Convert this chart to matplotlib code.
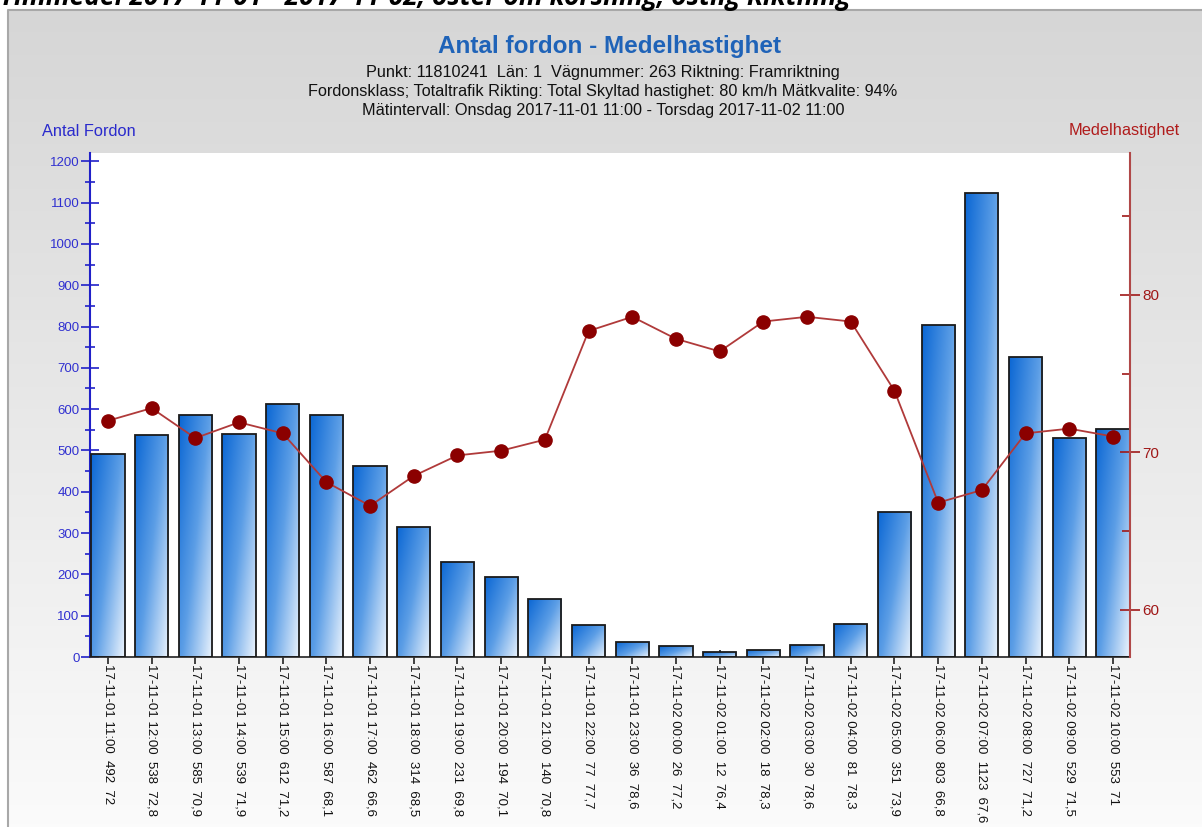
import numpy as np
import matplotlib
matplotlib.use("Agg")
import matplotlib.pyplot as plt
from matplotlib.ticker import MultipleLocator, FixedLocator
from matplotlib.colors import LinearSegmentedColormap

plt.rcParams['font.family'] = ['Liberation Sans', 'DejaVu Sans']

times = ["17-11-01 11:00", "17-11-01 12:00", "17-11-01 13:00", "17-11-01 14:00",
         "17-11-01 15:00", "17-11-01 16:00", "17-11-01 17:00", "17-11-01 18:00",
         "17-11-01 19:00", "17-11-01 20:00", "17-11-01 21:00", "17-11-01 22:00",
         "17-11-01 23:00", "17-11-02 00:00", "17-11-02 01:00", "17-11-02 02:00",
         "17-11-02 03:00", "17-11-02 04:00", "17-11-02 05:00", "17-11-02 06:00",
         "17-11-02 07:00", "17-11-02 08:00", "17-11-02 09:00", "17-11-02 10:00"]
counts = [492, 538, 585, 539, 612, 587, 462, 314, 231, 194, 140, 77,
          36, 26, 12, 18, 30, 81, 351, 803, 1123, 727, 529, 553]
speeds = [72, 72.8, 70.9, 71.9, 71.2, 68.1, 66.6, 68.5, 69.8, 70.1, 70.8, 77.7,
          78.6, 77.2, 76.4, 78.3, 78.6, 78.3, 73.9, 66.8, 67.6, 71.2, 71.5, 71]

W, H = 1202, 827
fig = plt.figure(figsize=(W / 100, H / 100), dpi=100)
fig.patch.set_facecolor('white')

# background panel with vertical gradient
bg = fig.add_axes([0, 0, 1, 1])
bg.set_xlim(0, W)
bg.set_ylim(H, 0)
bg.axis('off')
grad = np.linspace(0, 1, 256).reshape(-1, 1)
bgcmap = LinearSegmentedColormap.from_list('bg', ['#d6d6d6', '#fbfbfb'])
bg.imshow(grad, cmap=bgcmap, extent=[8, W, H, 10], aspect='auto', zorder=0)
bg.plot([8, 8, W], [H, 10, 10], color='#a8a8a8', lw=1.5, zorder=1)

# heading of the page, cut off at the top edge as in the source screenshot
fig.text(0.0, 1 - 5 / H, "Timmedel 2017-11-01 - 2017-11-02, öster om korsning, östlig Riktning",
         fontsize=19, fontweight='bold', fontstyle='italic', va='baseline', ha='left',
         family=['Open Sans', 'DejaVu Sans'])

fig.text(610 / W, 1 - 47 / H, "Antal fordon - Medelhastighet", color='#1f63b8',
         fontsize=17.5, fontweight='bold', ha='center', va='center')
subs = ["Punkt: 11810241  Län: 1  Vägnummer: 263 Riktning: Framriktning",
        "Fordonsklass; Totaltrafik Rikting: Total Skyltad hastighet: 80 km/h Mätkvalite: 94%",
        "Mätintervall: Onsdag 2017-11-01 11:00 - Torsdag 2017-11-02 11:00"]
for i, s in enumerate(subs):
    fig.text(603 / W, 1 - (73 + 18.5 * i) / H, s, fontsize=11.7, ha='center', va='center',
             color='#111111')

fig.text(89 / W, 1 - 131 / H, "Antal Fordon", color='#2a2acc', fontsize=11.8, ha='center', va='center')
fig.text(1124 / W, 1 - 131 / H, "Medelhastighet", color='#b01c1c', fontsize=11.8, ha='center', va='center')

ax = fig.add_axes([90 / W, 1 - 657 / H, (1130 - 90) / W, (657 - 153) / H])
ax.set_facecolor('white')
x = np.arange(len(counts))
bars = ax.bar(x, counts, width=0.76, facecolor='none', edgecolor='#1a1a1a', linewidth=1.3, zorder=3)

barcmap = LinearSegmentedColormap.from_list('bar', ['#0b67d4', '#5c9ee6', '#ecf4fd'])
gx, gy = np.meshgrid(np.linspace(0, 1, 60), np.linspace(0, 1, 200))
gimg = np.clip(0.55 * gx + 0.45 * gy, 0, 1)  # row 0 = top (origin upper)
for b in bars:
    x0, y0 = b.get_x(), b.get_y()
    w, h = b.get_width(), b.get_height()
    im = ax.imshow(gimg, cmap=barcmap, extent=[x0, x0 + w, y0, y0 + h],
                   aspect='auto', zorder=2, origin='upper', interpolation='bilinear')
    im.set_clip_path(b)

ax.set_xlim(-0.41, 23.39)
ax.set_ylim(0, 1220)
ax.yaxis.set_major_locator(MultipleLocator(100))
ax.yaxis.set_minor_locator(MultipleLocator(50))
ax.tick_params(axis='y', which='major', direction='inout', length=13, width=1.2,
               color='#2020c8', labelcolor='#3030d0', labelsize=9.5, pad=1)
ax.tick_params(axis='y', which='minor', direction='inout', length=7, width=1.2, color='#2020c8')
ax.set_xticks(x)


def fmt_speed(v):
    s = f"{v:g}"
    return s.replace('.', ',')


labels = [f"{t}  {c}  {fmt_speed(s)}" for t, c, s in zip(times, counts, speeds)]
ax.set_xticklabels(labels, rotation=270, fontsize=9.5, color='#111111')
ax.tick_params(axis='x', direction='inout', length=10, width=1.2, color='#222222', pad=0)
for lab in ax.get_xticklabels():
    lab.set_va('top')
    lab.set_ha('center')
for s in ['top', 'right']:
    ax.spines[s].set_visible(False)
ax.spines['left'].set_color('#2020c8')
ax.spines['left'].set_linewidth(1.5)
ax.spines['bottom'].set_color('#333333')
ax.spines['bottom'].set_linewidth(1.3)

ax2 = ax.twinx()
ax2.plot(x, speeds, color='#b03a3a', lw=1.3, marker='o', markersize=9.5,
         markerfacecolor='#8b0000', markeredgecolor='#8b0000', zorder=5)
ax2.set_ylim(57.0, 89.0)
ax2.yaxis.set_major_locator(FixedLocator([60, 70, 80]))
ax2.yaxis.set_minor_locator(FixedLocator([65, 75, 85]))
ax2.tick_params(axis='y', which='major', direction='inout', length=14, width=1.2,
                color='#a01818', labelcolor='#a01818', labelsize=11, pad=2)
ax2.tick_params(axis='y', which='minor', direction='in', length=6, width=1.2, color='#a01818')
for s in ['top', 'left', 'bottom']:
    ax2.spines[s].set_visible(False)
ax2.spines['right'].set_color('#b04848')
ax2.spines['right'].set_linewidth(1.5)

fig.savefig("out.png", dpi=100)
